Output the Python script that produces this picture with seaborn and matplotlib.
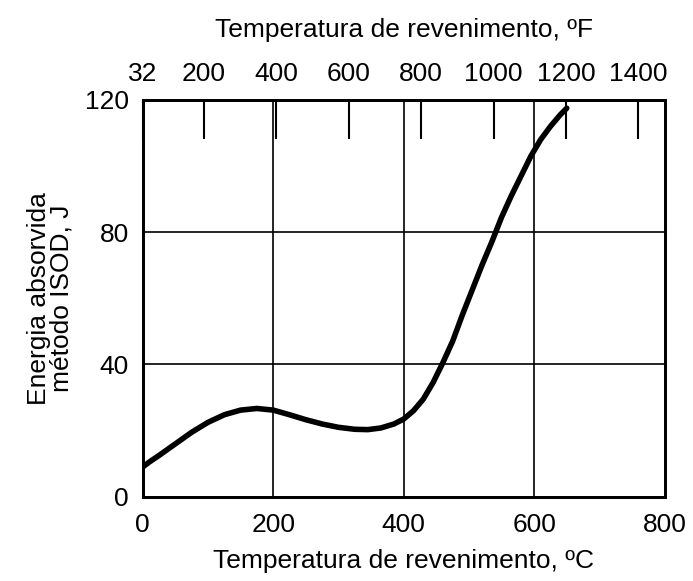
import pandas as pd
import matplotlib
matplotlib.use("Agg")
import matplotlib.pyplot as plt
import seaborn as sns

sns.set_theme(style="white")
plt.rcParams['font.family'] = ['Liberation Sans', 'DejaVu Sans']

# curva (ºC, J)
temp_c = [0, 10, 25, 50, 75, 100, 125, 150, 175, 200, 225, 250, 275, 300, 325,
          345, 365, 385, 400, 415, 430, 445, 460, 475, 490, 505, 520, 535, 550,
          565, 580, 595, 610, 625, 640, 650]
energia = [9.0, 10.5, 12.5, 16.0, 19.5, 22.5, 24.8, 26.2, 26.7, 26.2, 24.8, 23.3,
           22.0, 21.0, 20.4, 20.3, 20.8, 22.0, 23.5, 26.0, 29.5, 34.5, 40.5, 47.0,
           55.0, 62.5, 70.0, 77.0, 84.5, 91.0, 97.0, 103.0, 108.0, 112.0, 115.5, 117.5]
x_ticks_c = [0, 200, 400, 600, 800]
y_ticks = [0, 40, 80, 120]
top_ticks_f = [32, 200, 400, 600, 800, 1000, 1200, 1400]

df = pd.DataFrame({'temp': temp_c, 'energia': energia})

fig = plt.figure(figsize=(6.93, 5.81), dpi=100)
ax = fig.add_axes([0.206, 0.145, 0.753, 0.683])

ax.set_xlim(0, 800)
ax.set_ylim(0, 120)
for v in [200, 400, 600]:
    ax.axvline(v, color='black', lw=1.2, zorder=1)
for v in [40, 80]:
    ax.axhline(v, color='black', lw=1.2, zorder=1)

sns.lineplot(data=df, x='temp', y='energia', ax=ax, color='black', lw=4,
             zorder=3, sort=False)

for s in ax.spines.values():
    s.set_color('black')
    s.set_linewidth(2)

fs = 19
ax.set_xticks(x_ticks_c)
ax.set_yticks(y_ticks)
ax.tick_params(axis='both', length=0, labelsize=fs, colors='black')
ax.tick_params(axis='x', pad=12)
ax.tick_params(axis='y', pad=10)
ax.set_xlabel('Temperatura de revenimento, ºC', fontsize=fs, color='black', labelpad=8)
ax.set_ylabel('Energia absorvida\nmétodo ISOD, J', fontsize=fs, color='black',
              labelpad=8, linespacing=0.95)

top = ax.twiny()
top.set_xlim(32, 800 * 9 / 5 + 32)
top.set_xticks(top_ticks_f)
top.tick_params(axis='x', direction='in', length=28, width=1.5, colors='black',
                labelsize=fs, pad=10)
top.set_xlabel('Temperatura de revenimento, ºF', fontsize=fs, color='black', labelpad=18)
for s in top.spines.values():
    s.set_color('black')
    s.set_linewidth(2)

fig.savefig('out.png', dpi=100, facecolor='white')
